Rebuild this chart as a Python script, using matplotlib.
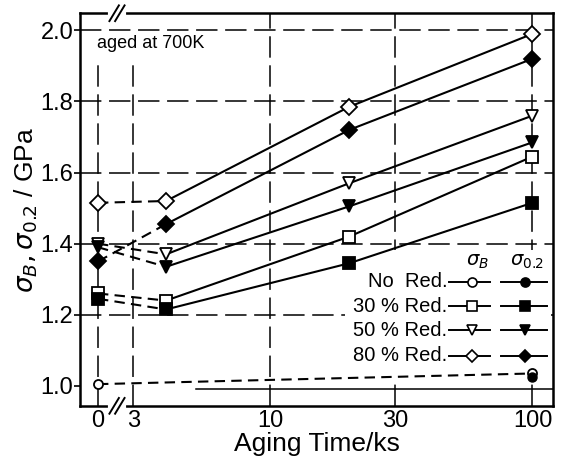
import numpy as np
import matplotlib
matplotlib.use("Agg")
import matplotlib.pyplot as plt
from matplotlib.patches import Rectangle

plt.rcParams['font.family'] = ['Liberation Sans', 'DejaVu Sans']
plt.rcParams['mathtext.fontset'] = 'dejavusans'

# aging time (ks); t = 0 is drawn left of the axis break
aging_time = [0, 4, 20, 100]
ZERO_POS = 2.2

tick_times = [0, 3, 10, 30, 100]
tick_labels = ["0", "3", "10", "30", "100"]
y_ticks = [1.0, 1.2, 1.4, 1.6, 1.8, 2.0]

# tensile strength sigma_B / GPa
sb_30 = [1.26, 1.24, 1.42, 1.645]
sb_50 = [1.40, 1.37, 1.57, 1.76]
sb_80 = [1.515, 1.52, 1.785, 1.99]
# 0.2 % proof stress / GPa
sp_30 = [1.245, 1.215, 1.345, 1.515]
sp_50 = [1.39, 1.335, 1.505, 1.685]
sp_80 = [1.35, 1.455, 1.72, 1.92]

# no reduction: only as-received and 100 ks
norm_time = [0, 100]
sb_0 = [1.005, 1.035]
sp_0 = [1.005, 1.025]


def xpos(t):
    t = np.asarray(t, dtype=float)
    return np.where(t == 0, ZERO_POS, t)


fig = plt.figure(figsize=(5.68, 4.73), dpi=100)
ax = fig.add_axes([0.141, 0.142, 0.833, 0.830])
ax.set_xscale('log')
ax.set_xlim(1.88, 120)
ax.set_ylim(0.944, 2.048)

# dashed guide lines
grid_kw = dict(color='black', lw=1.1, dashes=(14, 5), zorder=1)
for v in y_ticks[1:]:
    ax.axhline(v, **grid_kw)
ax.plot([5.2, 120], [0.99, 0.99], color='black', lw=1.1, zorder=1)
for t in tick_times:
    top = 1.92 if t < 10 else 2.048
    ax.plot(xpos([t, t]), [0.944, top], **grid_kw)

# blank area behind the key
ax.add_patch(Rectangle((0.56, 0.06), 0.435, 0.337, transform=ax.transAxes,
                       facecolor='white', edgecolor='none', zorder=2))

line_kw = dict(color='black', lw=1.5, zorder=3)
mk = 8


def draw_series(vals, marker, filled):
    x = xpos(aging_time)
    ax.plot(x[:2], vals[:2], ls=(0, (5, 3)), **line_kw)
    ax.plot(x[1:], vals[1:], ls='-', **line_kw)
    ax.plot(x, vals, ls='none', marker=marker, ms=mk, mec='black', mew=1.3,
            mfc='black' if filled else 'white', zorder=4)


draw_series(sb_30, 's', False)
draw_series(sp_30, 's', True)
draw_series(sb_50, 'v', False)
draw_series(sp_50, 'v', True)
draw_series(sb_80, 'D', False)
draw_series(sp_80, 'D', True)

ax.plot(xpos(norm_time), sb_0, ls=(0, (5, 3)), **line_kw)
ax.plot(xpos(norm_time), sb_0, ls='none', marker='o', ms=6.5, mec='black',
        mew=1.3, mfc='white', zorder=4)
ax.plot(xpos(norm_time[1:]), sp_0[1:], ls='none', marker='o', ms=6.5,
        mec='black', mfc='black', zorder=5)

ax.set_xticks(xpos(tick_times))
ax.set_xticklabels(tick_labels)
ax.xaxis.set_minor_locator(matplotlib.ticker.NullLocator())
ax.set_yticks(y_ticks)
ax.set_yticklabels(["%.1f" % v for v in y_ticks])
ax.tick_params(labelsize=17, length=4, width=1.2, direction='out', pad=1)
ax.tick_params(axis='x', length=0, pad=3)
for s in ax.spines.values():
    s.set_linewidth(1.8)

ax.set_xlabel('Aging Time/ks', fontsize=19, labelpad=0)
ax.set_ylabel(r'$\sigma_B,\sigma_{0.2}$ / GPa', fontsize=19, labelpad=0)

# axis break marks
for yb in (0.0, 1.0):
    for dx in (-0.006, 0.006):
        ax.plot([0.068 + dx, 0.088 + dx], [yb - 0.02, yb + 0.02],
                transform=ax.transAxes, color='black', lw=1.4,
                clip_on=False, zorder=6)
    ax.plot([0.064, 0.092], [yb, yb], transform=ax.transAxes,
            color='white', lw=3, clip_on=False, zorder=5)

ax.text(0.036, 0.924, 'aged at 700K', transform=ax.transAxes,
        fontsize=13, va='center', ha='left')

# key
tr = ax.transAxes
ax.text(0.839, 0.366, r'$\sigma_B$', transform=tr, fontsize=14,
        ha='center', va='center', zorder=7)
ax.text(0.945, 0.366, r'$\sigma_{0.2}$', transform=tr, fontsize=14,
        ha='center', va='center', zorder=7)
key_rows = [("No  Red.", 'o', 0.316), ("30 % Red.", 's', 0.254),
            ("50 % Red.", 'v', 0.193), ("80 % Red.", 'D', 0.127)]
for label, m, yk in key_rows:
    ax.text(0.776, yk, label, transform=tr, fontsize=14.5,
            ha='right', va='center', zorder=7)
    for x0, x1, xm, fc in ((0.780, 0.867, 0.829, 'white'),
                           (0.890, 0.987, 0.941, 'black')):
        ax.plot([x0, x1], [yk, yk], transform=tr, color='black', lw=1.4,
                zorder=6)
        ax.plot([xm], [yk], transform=tr, marker=m, ms=6.5, mec='black',
                mew=1.2, mfc=fc, zorder=7, ls='none')

fig.savefig('out.png', dpi=100)
